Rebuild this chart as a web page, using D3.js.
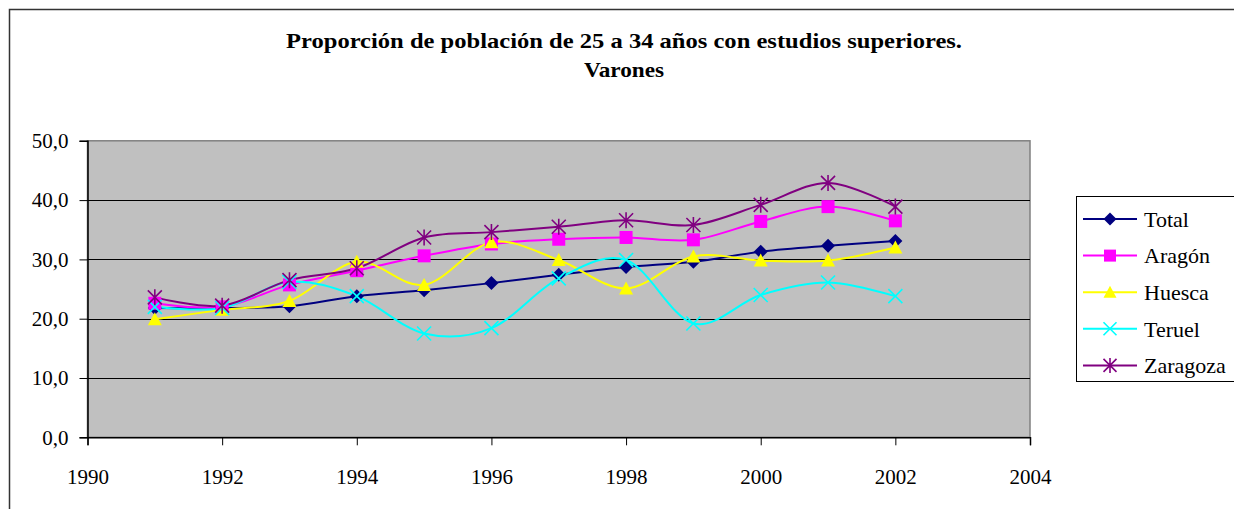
<!DOCTYPE html>
<html>
<head>
<meta charset="utf-8">
<script src="https://cdn.jsdelivr.net/npm/d3@7"></script>
<style>
  html, body { margin: 0; padding: 0; background: #fff; }
  svg { display: block; }
  svg text { font-family: "Times New Roman", "Liberation Serif", Tinos, "Nimbus Roman", "DejaVu Serif", serif !important; fill: #000; }
</style>
</head>
<body>
<svg id="chart" width="1234" height="509"></svg>
<script>
// ---- data ----
const years = [1991, 1992, 1993, 1994, 1995, 1996, 1997, 1998, 1999, 2000, 2001, 2002];
const total    = [21.8, 21.8, 22.1, 23.8, 24.8, 26.0, 27.4, 28.7, 29.6, 31.3, 32.3, 33.1];
const aragon   = [22.6, 22.0, 25.7, 28.1, 30.6, 32.6, 33.4, 33.7, 33.3, 36.4, 38.9, 36.5];
const huesca   = [19.9, 21.5, 23.0, 29.6, 25.7, 32.9, 29.9, 25.1, 30.5, 29.8, 29.8, 32.0];
const teruel   = [22.0, 21.8, 26.2, 23.8, 17.5, 18.4, 26.8, 29.9, 19.2, 24.0, 26.1, 23.8];
const zaragoza = [23.6, 22.2, 26.5, 28.5, 33.7, 34.6, 35.5, 36.6, 35.8, 39.2, 42.9, 38.9];
const seriesNames = ["Total", "Aragón", "Huesca", "Teruel", "Zaragoza"];
const xTicks = [1990, 1992, 1994, 1996, 1998, 2000, 2002, 2004];
const yTicks = [0, 10, 20, 30, 40, 50];
const titleLines = ["Proporción de población de 25 a 34 años con estudios superiores.", "Varones"];

// ---- styles ----
const colors = ["#000080", "#FF00FF", "#FFFF00", "#00FFFF", "#800080"];
const markers = ["diamond", "square", "triangle", "x", "star"];
const seriesValues = [total, aragon, huesca, teruel, zaragoza];
const FONT = '"Times New Roman", "Liberation Serif", Tinos, "Nimbus Roman", "DejaVu Serif", serif';

const svg = d3.select("#chart");
const W = 1234, H = 509;
const plot = { left: 87.5, right: 1030, top: 140.8, bottom: 437.3 };

// outer frame
svg.append("rect")
  .attr("x", 9.5).attr("y", 9.5)
  .attr("width", W + 20).attr("height", H + 20)
  .attr("fill", "#fff").attr("stroke", "#333").attr("stroke-width", 1.5);

// title
titleLines.forEach((t, i) => {
  const el = svg.append("text")
    .attr("x", 624).attr("y", 48 + i * 29)
    .attr("text-anchor", "middle")
    .attr("font-family", FONT)
    .style("font-size", "22px").style("font-weight", "bold")
    .text(t);
  if (i === 0) el.attr("textLength", 676).attr("lengthAdjust", "spacingAndGlyphs");
  else el.attr("textLength", 80).attr("lengthAdjust", "spacingAndGlyphs");
});

const x = d3.scaleLinear().domain([1990, 2004]).range([plot.left, plot.right]);
const y = d3.scaleLinear().domain([0, 50]).range([plot.bottom, plot.top]);

// plot area
svg.append("rect")
  .attr("x", plot.left).attr("y", plot.top)
  .attr("width", plot.right - plot.left).attr("height", plot.bottom - plot.top)
  .attr("fill", "#C0C0C0").attr("stroke", "#808080").attr("stroke-width", 1.5);

// gridlines
svg.append("g").selectAll("line")
  .data(yTicks.filter(v => v > 0 && v < 50))
  .join("line")
  .attr("x1", plot.left).attr("x2", plot.right)
  .attr("y1", d => Math.round(y(d)) + 0.5).attr("y2", d => Math.round(y(d)) + 0.5)
  .attr("stroke", "#000").attr("stroke-width", 1);

const locale = d3.formatLocale({ decimal: ",", thousands: ".", grouping: [3], currency: ["", "€"] });
const fmt = locale.format(".1f");

// y axis
const yAxis = svg.append("g")
  .attr("transform", `translate(${plot.left},0)`)
  .call(d3.axisLeft(y).tickValues(yTicks).tickSize(8).tickPadding(11).tickFormat(fmt));
yAxis.attr("font-family", FONT).attr("font-size", 21);
yAxis.select(".domain").attr("stroke", "#000").attr("stroke-width", 1.5);
yAxis.selectAll(".tick line").attr("stroke", "#000");
yAxis.selectAll("text").attr("font-family", FONT).style("font-size", "21px");

// x axis
const xAxis = svg.append("g")
  .attr("transform", `translate(0,${plot.bottom})`)
  .call(d3.axisBottom(x).tickValues(xTicks).tickSize(8).tickPadding(24).tickFormat(d3.format("d")));
xAxis.attr("font-family", FONT).attr("font-size", 21);
xAxis.select(".domain").attr("stroke", "#000").attr("stroke-width", 1.5);
xAxis.selectAll(".tick line").attr("stroke", "#000");
xAxis.selectAll("text").attr("font-family", FONT).style("font-size", "21px");

// marker drawing
function drawMarker(g, type, color, s) {
  const h = s / 2;
  if (type === "diamond") {
    g.append("path").attr("d", `M0,${-h}L${h},0L0,${h}L${-h},0Z`).attr("fill", color);
  } else if (type === "square") {
    g.append("rect").attr("x", -h + 0.5).attr("y", -h + 0.5).attr("width", s - 1).attr("height", s - 1).attr("fill", color);
  } else if (type === "triangle") {
    g.append("path").attr("d", `M0,${-h}L${h},${h - 1}L${-h},${h - 1}Z`).attr("fill", color);
  } else if (type === "x") {
    g.append("path").attr("d", `M${-h},${-h}L${h},${h}M${-h},${h}L${h},${-h}`)
      .attr("stroke", color).attr("stroke-width", 1.6).attr("fill", "none");
  } else if (type === "star") {
    g.append("path").attr("d", `M${-h},${-h}L${h},${h}M${-h},${h}L${h},${-h}M0,${-h - 1}L0,${h + 1}`)
      .attr("stroke", color).attr("stroke-width", 1.6).attr("fill", "none");
  }
}

const line = d3.line()
  .x((d, i) => x(years[i]))
  .y(d => y(d))
  .curve(d3.curveCatmullRom.alpha(0));

const seriesG = svg.append("g");
seriesValues.forEach((vals, si) => {
  const g = seriesG.append("g");
  g.append("path").datum(vals)
    .attr("d", line)
    .attr("fill", "none")
    .attr("stroke", colors[si])
    .attr("stroke-width", 2);
});
seriesValues.forEach((vals, si) => {
  vals.forEach((v, i) => {
    const mg = seriesG.append("g").attr("transform", `translate(${x(years[i])},${y(v)})`);
    drawMarker(mg, markers[si], colors[si], 14);
  });
});

// legend
const legend = svg.append("g");
legend.append("rect")
  .attr("x", 1076.5).attr("y", 196.5).attr("width", 200).attr("height", 185)
  .attr("fill", "#fff").attr("stroke", "#000").attr("stroke-width", 1);
seriesNames.forEach((name, i) => {
  const cy = 219 + i * 36.6;
  const lg = legend.append("g");
  lg.append("line").attr("x1", 1083).attr("x2", 1137).attr("y1", cy).attr("y2", cy)
    .attr("stroke", colors[i]).attr("stroke-width", 2);
  const mg = lg.append("g").attr("transform", `translate(1110,${cy})`);
  drawMarker(mg, markers[i], colors[i], 13);
  lg.append("text").attr("x", 1144).attr("y", cy).attr("dy", "0.35em")
    .attr("font-family", FONT)
    .style("font-size", "22px").text(name);
});
</script>
</body>
</html>
